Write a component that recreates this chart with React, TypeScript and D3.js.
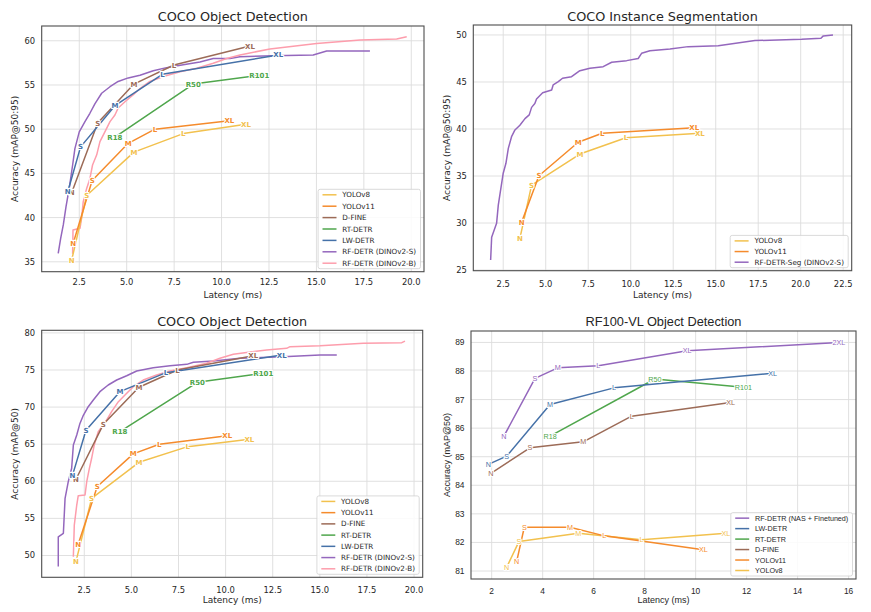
import React from 'react';
import * as d3 from 'd3';

// ---------- shared labels ----------
const sizeLabels = ['N', 'S', 'M', 'L', 'XL'];
const rtLabels = ['R18', 'R50', 'R101'];
const nasLabels = ['N', 'S', 'M', 'L', 'XL', '2XL'];

// ---------- colours ----------
const cYolo8 = '#f2c14e';
const cYolo11 = '#f58b2c';
const cDfine = '#9c6b57';
const cRtdetr = '#4fa64c';
const cLwdetr = '#4571a8';
const cRfS = '#9467bd';
const cRfB = '#fd9dac';

// ---------- Panel 1: COCO Object Detection mAP@50:95 ----------
const p1Yolo8Lat = [2.1, 2.89, 5.38, 7.98, 11.29];
const p1Yolo8Acc = [35.2, 42.5, 47.4, 49.5, 50.55];
const p1Yolo11Lat = [2.18, 3.18, 5.08, 6.49, 10.41];
const p1Yolo11Acc = [37.1, 44.2, 48.4, 50.0, 50.96];
const p1DfineLat = [2.1, 3.47, 5.38, 7.49, 11.5];
const p1DfineAcc = [42.8, 50.7, 55.1, 57.26, 59.4];
const p1LwLat = [1.89, 2.57, 4.38, 6.88, 12.99];
const p1LwAcc = [42.9, 48.0, 52.66, 56.2, 58.4];
const p1RtLat = [4.38, 8.51, 11.99];
const p1RtAcc = [49.1, 55.1, 56.1];
const p1RfSLat = [1.39, 1.52, 1.66, 1.8, 1.97, 2.15, 2.27, 2.5, 2.8, 3.06, 3.33, 3.68, 4.12, 4.55, 5.08, 5.7, 6.4, 7.1, 7.98, 8.86, 9.56, 10.44, 10.97, 12.73, 14.83, 15.54, 17.82];
const p1RfSAcc = [35.96, 37.65, 39.2, 41.2, 43.3, 45.95, 47.8, 49.7, 50.85, 51.8, 52.9, 54.06, 54.8, 55.4, 55.8, 56.1, 56.6, 56.96, 57.3, 57.6, 58.0, 58.0, 58.2, 58.3, 58.4, 58.85, 58.85];
const p1RfBLat = [2.15, 2.17, 2.54, 2.62, 2.71, 2.89, 3.06, 3.2, 3.42, 3.59, 3.85, 4.12, 4.38, 4.55, 4.91, 5.35, 5.7, 6.22, 6.93, 7.81, 8.69, 9.56, 10.27, 10.97, 12.55, 15.01, 17.3, 19.23, 19.76];
const p1RfBAcc = [35.9, 38.6, 38.8, 39.9, 41.8, 43.3, 44.4, 45.95, 47.1, 48.6, 49.7, 50.85, 51.6, 52.4, 53.1, 53.9, 54.6, 55.4, 55.95, 56.5, 56.9, 57.45, 58.0, 58.4, 59.07, 59.7, 60.1, 60.2, 60.46];
const p1XTicks = [2.5, 5, 7.5, 10, 12.5, 15, 17.5, 20];
const p1YTicks = [35, 40, 45, 50, 55, 60];

// ---------- Panel 2: COCO Instance Segmentation ----------
const p2Yolo8Lat = [3.48, 4.17, 7.01, 9.72, 14.07];
const p2Yolo8Acc = [28.37, 34.04, 37.34, 39.07, 39.54];
const p2Yolo11Lat = [3.58, 4.6, 6.91, 8.32, 13.74];
const p2Yolo11Acc = [30.07, 35.03, 38.59, 39.54, 40.14];
const p2SegLat = [1.76, 1.82, 2.11, 2.21, 2.5, 2.66, 2.8, 2.99, 3.19, 3.48, 3.78, 4.03, 4.17, 4.36, 4.46, 4.82, 5.35, 5.44, 5.74, 5.99, 6.52, 7.01, 7.6, 8.38, 8.88, 9.76, 10.44, 10.64, 11.13, 12.31, 13.38, 15.15, 17.31, 20.05, 21.19, 21.33, 21.9];
const p2SegAcc = [26.06, 28.5, 29.97, 31.9, 35.3, 36.35, 37.94, 39.18, 39.9, 40.4, 41.1, 41.5, 42.3, 42.7, 43.2, 43.86, 44.15, 44.7, 45.03, 45.4, 45.56, 46.2, 46.45, 46.63, 47.1, 47.27, 47.5, 48.05, 48.33, 48.51, 48.76, 48.86, 49.4, 49.54, 49.65, 49.9, 50.0];
const p2XTicks = [2.5, 5, 7.5, 10, 12.5, 15, 17.5, 20, 22.5];
const p2YTicks = [25, 30, 35, 40, 45, 50];

// ---------- Panel 3: COCO Object Detection mAP@50 ----------
const p3Yolo8Lat = [2.06, 2.89, 5.4, 7.99, 11.26];
const p3Yolo8Acc = [49.2, 57.7, 62.56, 64.67, 65.66];
const p3Yolo11Lat = [2.18, 3.19, 5.1, 6.48, 10.09];
const p3Yolo11Acc = [51.55, 59.3, 63.7, 64.99, 66.15];
const p3DfineLat = [2.06, 3.51, 5.4, 7.44, 11.47];
const p3DfineAcc = [60.27, 67.68, 72.67, 75.0, 76.93];
const p3LwLat = [1.87, 2.59, 4.39, 6.84, 12.98];
const p3LwAcc = [60.76, 66.87, 72.08, 74.64, 77.02];
const p3RtLat = [4.39, 8.5, 12.0];
const p3RtAcc = [66.69, 73.34, 74.55];
const p3RfSLat = [1.12, 1.12, 1.39, 1.48, 1.65, 1.83, 1.92, 2.1, 2.27, 2.45, 2.71, 2.98, 3.33, 3.77, 4.22, 4.75, 5.28, 6.16, 7.05, 7.94, 8.29, 9.35, 10.76, 13.06, 15.01, 15.9];
const p3RfSAcc = [48.5, 52.5, 52.99, 57.7, 59.95, 61.75, 64.9, 66.24, 67.8, 68.9, 70.05, 70.96, 72.08, 72.98, 73.65, 74.23, 74.87, 75.31, 75.58, 75.76, 76.04, 76.2, 76.58, 76.8, 77.02, 77.02];
const p3RfBLat = [1.92, 1.97, 2.1, 2.18, 2.54, 2.63, 2.77, 2.89, 3.03, 3.24, 3.69, 3.95, 4.31, 4.66, 5.1, 5.63, 6.34, 7.05, 7.94, 9.0, 9.7, 10.41, 12.18, 13.24, 13.42, 15.01, 17.31, 19.35, 19.52];
const p3RfBAcc = [49.84, 54.1, 56.8, 58.06, 58.15, 59.95, 61.75, 63.1, 64.9, 66.69, 68.26, 69.38, 70.73, 71.63, 72.75, 73.65, 74.33, 74.87, 75.31, 75.9, 76.58, 77.12, 77.7, 77.92, 78.14, 78.27, 78.6, 78.68, 78.9];
const p3XTicks = [2.5, 5, 7.5, 10, 12.5, 15, 17.5, 20];
const p3YTicks = [50, 55, 60, 65, 70, 75, 80];

// ---------- Panel 4: RF100-VL Object Detection ----------
const p4NasLat = [2.48, 3.7, 4.59, 6.18, 9.67, 15.62];
const p4NasAcc = [85.72, 87.74, 88.11, 88.18, 88.71, 89.0];
const p4LwLat = [1.87, 2.59, 4.29, 6.8, 13.02];
const p4LwAcc = [84.73, 85.02, 86.83, 87.41, 87.92];
const p4RtLat = [4.29, 8.4, 11.87];
const p4RtAcc = [85.72, 87.72, 87.43];
const p4DfineLat = [1.97, 3.5, 5.59, 7.49, 11.37];
const p4DfineAcc = [84.42, 85.31, 85.52, 86.42, 86.9];
const p4Yolo11Lat = [2.98, 3.28, 5.07, 6.42, 10.3];
const p4Yolo11Acc = [81.33, 82.53, 82.53, 82.23, 81.74];
const p4Yolo8Lat = [2.59, 3.07, 5.4, 7.88, 11.19];
const p4Yolo8Acc = [81.13, 82.03, 82.32, 82.09, 82.32];
const p4XTicks = [2, 4, 6, 8, 10, 12, 14, 16];
const p4YTicks = [81, 82, 83, 84, 85, 86, 87, 88, 89];

type Series = { name: string; color: string; lat: number[]; acc: number[]; labels?: string[] };

type PanelCfg = {
  id: string;
  title: string;
  ylabel: string;
  box: [number, number, number, number];
  xDomain: [number, number];
  yDomain: [number, number];
  xTicks: number[];
  yTicks: number[];
  xFmt: (v: number) => string;
  draw: Series[];
  legend: Series[];
  legendW: number;
  legendRow: number;
  tickY: number;
  xlabelY: number;
  ylabelX: number;
  titleY: number;
  font: string;
  labelWeight: string;
  labelSize: number;
};

const mk = (name: string, color: string, lat: number[], acc: number[], labels?: string[]): Series => ({ name, color, lat, acc, labels });

const p1 = {
  y8: mk('YOLOv8', cYolo8, p1Yolo8Lat, p1Yolo8Acc, sizeLabels),
  y11: mk('YOLOv11', cYolo11, p1Yolo11Lat, p1Yolo11Acc, sizeLabels),
  df: mk('D-FINE', cDfine, p1DfineLat, p1DfineAcc, sizeLabels),
  rt: mk('RT-DETR', cRtdetr, p1RtLat, p1RtAcc, rtLabels),
  lw: mk('LW-DETR', cLwdetr, p1LwLat, p1LwAcc, sizeLabels),
  s: mk('RF-DETR (DINOv2-S)', cRfS, p1RfSLat, p1RfSAcc),
  b: mk('RF-DETR (DINOv2-B)', cRfB, p1RfBLat, p1RfBAcc),
};
const p2 = {
  y8: mk('YOLOv8', cYolo8, p2Yolo8Lat, p2Yolo8Acc, sizeLabels),
  y11: mk('YOLOv11', cYolo11, p2Yolo11Lat, p2Yolo11Acc, sizeLabels),
  s: mk('RF-DETR-Seg (DINOv2-S)', cRfS, p2SegLat, p2SegAcc),
};
const p3 = {
  y8: mk('YOLOv8', cYolo8, p3Yolo8Lat, p3Yolo8Acc, sizeLabels),
  y11: mk('YOLOv11', cYolo11, p3Yolo11Lat, p3Yolo11Acc, sizeLabels),
  df: mk('D-FINE', cDfine, p3DfineLat, p3DfineAcc, sizeLabels),
  rt: mk('RT-DETR', cRtdetr, p3RtLat, p3RtAcc, rtLabels),
  lw: mk('LW-DETR', cLwdetr, p3LwLat, p3LwAcc, sizeLabels),
  s: mk('RF-DETR (DINOv2-S)', cRfS, p3RfSLat, p3RfSAcc),
  b: mk('RF-DETR (DINOv2-B)', cRfB, p3RfBLat, p3RfBAcc),
};
const p4 = {
  nas: mk('RF-DETR (NAS + Finetuned)', cRfS, p4NasLat, p4NasAcc, nasLabels),
  lw: mk('LW-DETR', cLwdetr, p4LwLat, p4LwAcc, sizeLabels),
  rt: mk('RT-DETR', cRtdetr, p4RtLat, p4RtAcc, rtLabels),
  df: mk('D-FINE', cDfine, p4DfineLat, p4DfineAcc, sizeLabels),
  y11: mk('YOLOv11', cYolo11, p4Yolo11Lat, p4Yolo11Acc, sizeLabels),
  y8: mk('YOLOv8', cYolo8, p4Yolo8Lat, p4Yolo8Acc, sizeLabels),
};

const DEJAVU = '"DejaVu Sans", sans-serif';
const ARIAL = '"Liberation Sans", Arial, sans-serif';
const f1 = (v: number) => v.toFixed(1);
const f0 = (v: number) => String(v);

const panels: PanelCfg[] = [
  {
    id: 'p1', title: 'COCO Object Detection', ylabel: 'Accuracy (mAP@50:95)',
    box: [41.7, 26, 424, 271.7], xDomain: [0.52, 20.67], yDomain: [33.88, 61.67],
    xTicks: p1XTicks, yTicks: p1YTicks, xFmt: f1,
    draw: [p1.s, p1.b, p1.y8, p1.y11, p1.df, p1.rt, p1.lw],
    legend: [p1.y8, p1.y11, p1.df, p1.rt, p1.lw, p1.s, p1.b],
    legendW: 102.4, legendRow: 11.4, tickY: 281.7, xlabelY: 295, ylabelX: 15, titleY: 16,
    font: DEJAVU, labelWeight: 'bold', labelSize: 7,
  },
  {
    id: 'p2', title: 'COCO Instance Segmentation', ylabel: 'Accuracy (mAP@50:95)',
    box: [473.3, 25, 851.7, 270.7], xDomain: [0.74, 23.0], yDomain: [24.93, 51.06],
    xTicks: p2XTicks, yTicks: p2YTicks, xFmt: f1,
    draw: [p2.s, p2.y8, p2.y11],
    legend: [p2.y8, p2.y11, p2.s],
    legendW: 118, legendRow: 10.65, tickY: 284, xlabelY: 295, ylabelX: 446.7, titleY: 16,
    font: DEJAVU, labelWeight: 'bold', labelSize: 7,
  },
  {
    id: 'p3', title: 'COCO Object Detection', ylabel: 'Accuracy (mAP@50)',
    box: [41.7, 330.3, 422.7, 577.3], xDomain: [0.24, 20.46], yDomain: [47.06, 80.35],
    xTicks: p3XTicks, yTicks: p3YTicks, xFmt: f1,
    draw: [p3.s, p3.b, p3.y8, p3.y11, p3.df, p3.rt, p3.lw],
    legend: [p3.y8, p3.y11, p3.df, p3.rt, p3.lw, p3.s, p3.b],
    legendW: 102.3, legendRow: 11.23, tickY: 590.5, xlabelY: 600, ylabelX: 15, titleY: 321,
    font: DEJAVU, labelWeight: 'bold', labelSize: 7,
  },
  {
    id: 'p4', title: 'RF100-VL Object Detection', ylabel: 'Accuracy (mAP@50)',
    box: [471, 331, 856, 579], xDomain: [1.19, 16.29], yDomain: [80.72, 89.4],
    xTicks: p4XTicks, yTicks: p4YTicks, xFmt: f0,
    draw: [p4.y8, p4.y11, p4.df, p4.rt, p4.lw, p4.nas],
    legend: [p4.nas, p4.lw, p4.rt, p4.df, p4.y11, p4.y8],
    legendW: 121.7, legendRow: 10.47, tickY: 591, xlabelY: 600, ylabelX: 446.7, titleY: 321.7,
    font: ARIAL, labelWeight: 'normal', labelSize: 7.2,
  },
];

const TXT = '#262626';

function Panel({ cfg }: { cfg: PanelCfg }) {
  const [L, T, R, B] = cfg.box;
  const x = d3.scaleLinear().domain(cfg.xDomain).range([L, R]);
  const y = d3.scaleLinear().domain(cfg.yDomain).range([B, T]);
  const line = d3.line<[number, number]>().x((d) => x(d[0])).y((d) => y(d[1]));
  const n = cfg.legend.length;
  const legH = cfg.legendRow * (n - 1) + 11;
  const legX = R - 3.5 - cfg.legendW;
  const legY = B - 3 - legH;
  const cx = (L + R) / 2;
  const cy = (T + B) / 2;
  return (
    <g fontFamily={cfg.font}>
      <defs>
        <clipPath id={`clip-${cfg.id}`}>
          <rect x={L} y={T} width={R - L} height={B - T} />
        </clipPath>
      </defs>
      <rect x={L} y={T} width={R - L} height={B - T} fill="#fff" />
      {cfg.xTicks.map((t) => (
        <line key={`gx${t}`} x1={x(t)} x2={x(t)} y1={T} y2={B} stroke="#dcdcdc" strokeWidth={0.9} />
      ))}
      {cfg.yTicks.map((t) => (
        <line key={`gy${t}`} x1={L} x2={R} y1={y(t)} y2={y(t)} stroke="#dcdcdc" strokeWidth={0.9} />
      ))}
      <g clipPath={`url(#clip-${cfg.id})`}>
        {cfg.draw.map((s) => (
          <path
            key={s.name}
            d={line(s.lat.map((v, i) => [v, s.acc[i]] as [number, number])) || ''}
            fill="none"
            stroke={s.color}
            strokeWidth={1.5}
            strokeLinejoin="round"
          />
        ))}
      </g>
      {cfg.draw.map((s) =>
        s.labels
          ? s.labels.map((lab, i) => (
              <text
                key={`${s.name}-${lab}`}
                x={x(s.lat[i])}
                y={y(s.acc[i])}
                dy="0.36em"
                textAnchor="middle"
                fontSize={cfg.labelSize}
                fontWeight={cfg.labelWeight}
                fill={s.color}
                stroke="#fff"
                strokeWidth={2.2}
                strokeLinejoin="round"
                paintOrder="stroke"
              >
                {lab}
              </text>
            ))
          : null
      )}
      <rect x={L} y={T} width={R - L} height={B - T} fill="none" stroke="#4d4d4d" strokeWidth={1.1} />
      {cfg.xTicks.map((t) => (
        <text key={`tx${t}`} x={x(t)} y={cfg.tickY} dy="0.35em" textAnchor="middle" fontSize={8.4} fill={TXT}>
          {cfg.xFmt(t)}
        </text>
      ))}
      {cfg.yTicks.map((t) => (
        <text key={`ty${t}`} x={L - 6.5} y={y(t)} dy="0.35em" textAnchor="end" fontSize={8.4} fill={TXT}>
          {String(t)}
        </text>
      ))}
      <text x={cx} y={cfg.titleY} dy="0.36em" textAnchor="middle" fontSize={12.8} fill={TXT}>
        {cfg.title}
      </text>
      <text x={cx} y={cfg.xlabelY} dy="0.35em" textAnchor="middle" fontSize={9} fill={TXT}>
        Latency (ms)
      </text>
      <text
        transform={`translate(${cfg.ylabelX},${cy}) rotate(-90)`}
        dy="0.35em"
        textAnchor="middle"
        fontSize={9}
        fill={TXT}
      >
        {cfg.ylabel}
      </text>
      <g>
        <rect x={legX} y={legY} width={cfg.legendW} height={legH} rx={2} fill="#fff" fillOpacity={0.85} stroke="#d0d0d0" strokeWidth={0.8} />
        {cfg.legend.map((s, i) => {
          const ry = legY + 5.5 + i * cfg.legendRow;
          return (
            <g key={`lg${s.name}`}>
              <line x1={legX + 4.4} x2={legX + 18.4} y1={ry} y2={ry} stroke={s.color} strokeWidth={1.5} />
              <text x={legX + 24.2} y={ry} dy="0.35em" fontSize={7.2} fill={TXT}>
                {s.name}
              </text>
            </g>
          );
        })}
      </g>
    </g>
  );
}

export default function App() {
  return (
    <svg
      width={871}
      height={612}
      viewBox="0 0 871 612"
      style={{ position: 'absolute', left: 0, top: 0, background: '#fff', display: 'block' }}
    >
      <rect x={0} y={0} width={871} height={612} fill="#fff" />
      {panels.map((p) => (
        <Panel key={p.id} cfg={p} />
      ))}
    </svg>
  );
}
